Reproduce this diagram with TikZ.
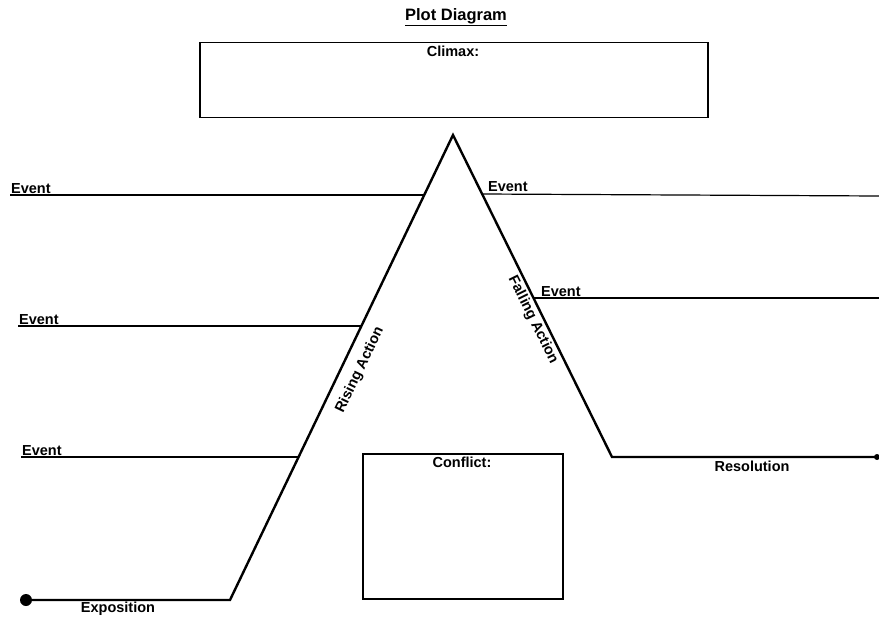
\documentclass[tikz,border=0pt]{standalone}
\usepackage{fontspec}
\setmainfont{Liberation Sans}
\begin{document}
\begin{tikzpicture}[x=1pt,y=-1pt,
  lbl/.style={font=\fontsize{14.5}{16}\selectfont\bfseries, inner sep=0pt},
  plotline/.style={line width=2.4pt, line join=miter},
  evline/.style={line width=1.2pt},
  boxst/.style={draw, line width=1.5pt}]
\useasboundingbox (0,0) rectangle (879,618);
% key points
\coordinate (expo) at (26,600);
\coordinate (base) at (230,600);
\coordinate (peak) at (453,135);
\coordinate (fall) at (612,457);
\coordinate (resend) at (877,457);
% title
\node[lbl, font=\fontsize{16.5}{18}\selectfont\bfseries] (title) at (456,17) {\underline{Plot Diagram}};
% boxes
\node[boxst, minimum width=508pt, minimum height=75pt, anchor=north west] (climax) at (199,42) {};
\node[lbl, anchor=north] (climaxlbl) at (453,46) {Climax:};
\node[boxst, minimum width=200pt, minimum height=145pt, anchor=north west] (conflict) at (362,453) {};
\node[lbl, anchor=north] (conflictlbl) at (462,457) {Conflict:};
% event lines left
\coordinate (l1a) at (10,195); \coordinate (l1b) at (424,195);
\coordinate (l2a) at (18,326); \coordinate (l2b) at (361,326);
\coordinate (l3a) at (21,457); \coordinate (l3b) at (299,457);
\draw[evline] (l1a) -- (l1b);
\draw[evline] (l2a) -- (l2b);
\draw[evline] (l3a) -- (l3b);
\node[lbl, anchor=south west] (e1) at (11,193.5) {Event};
\node[lbl, anchor=south west] (e2) at (19,324.5) {Event};
\node[lbl, anchor=south west] (e3) at (22,455.5) {Event};
% event lines right
\coordinate (r1a) at (482,194); \coordinate (r1b) at (879,196);
\coordinate (r2a) at (533,298); \coordinate (r2b) at (879,298);
\draw[evline] (r1a) -- (r1b);
\draw[evline] (r2a) -- (r2b);
\node[lbl, anchor=south west] (e4) at (488,192) {Event};
\node[lbl, anchor=south west] (e5) at (541,297) {Event};
% main plot line
\draw[plotline] (expo) -- (base) -- (peak) -- (fall) -- (resend);
\fill (expo) circle (6pt);
\fill (resend) circle (3pt);
% labels
\node[lbl] (expolbl) at (118,609) {Exposition};
\node[lbl] (reslbl) at (752,466) {Resolution};
\node[lbl, rotate=64.4] (rising) at (360,370) {Rising Action};
\node[lbl, rotate=-63.7] (falling) at (533,320) {Falling Action};
\end{tikzpicture}
\end{document}
